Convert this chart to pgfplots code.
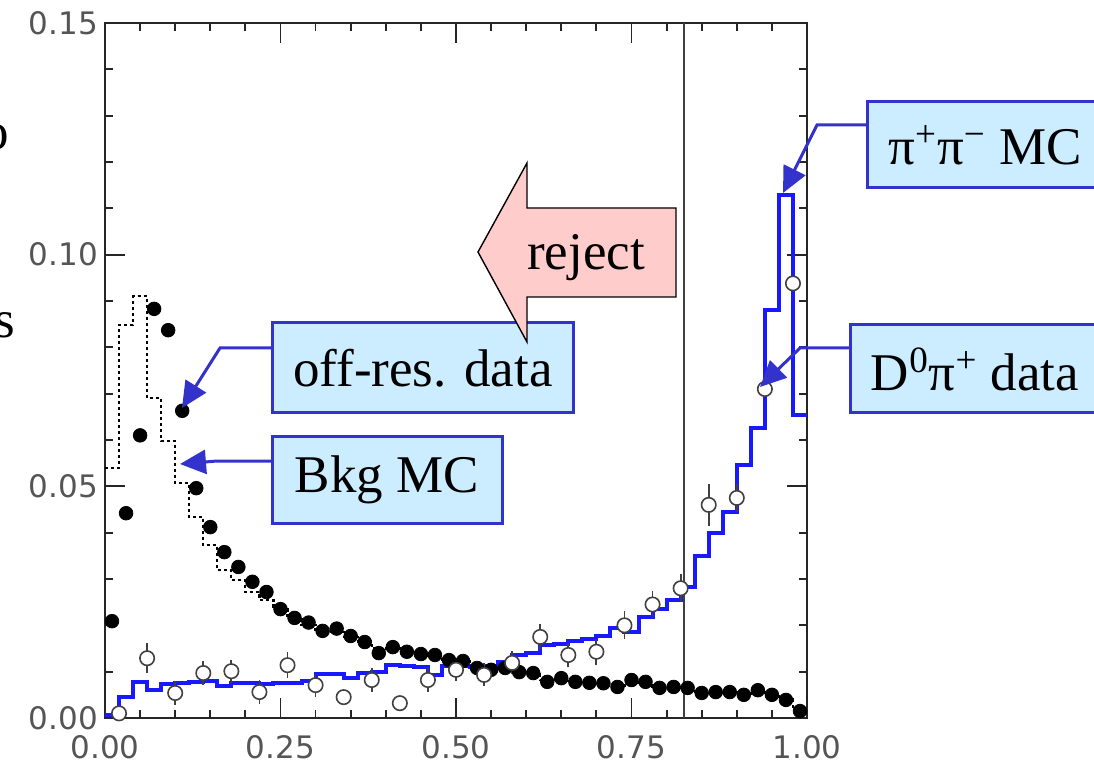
\documentclass[border=0pt]{standalone}
\usepackage{fontspec}
\setmainfont{Liberation Serif}
\newfontfamily\tickfont{DejaVu Sans}
\usepackage{pgfplots}
\pgfplotsset{compat=1.18}
\usetikzlibrary{arrows.meta}
\definecolor{boxfill}{RGB}{204,236,255}
\definecolor{boxblue}{RGB}{51,51,204}
\definecolor{histblue}{RGB}{25,25,255}
\definecolor{rejfill}{RGB}{255,204,204}
\definecolor{ticklab}{RGB}{85,85,85}
\begin{document}
\begin{tikzpicture}
\begin{axis}[
  at={(0,0)}, anchor=south west, scale only axis,
  width=351pt, height=347.5pt,
  xmin=0, xmax=1, ymin=0, ymax=0.15,
  xtick={0,0.25,0.5,0.75,1}, xticklabels={0.00,0.25,0.50,0.75,1.00},
  ytick={0,0.05,0.1,0.15}, yticklabels={0.00,0.05,0.10,0.15},
  minor x tick num=4, minor y tick num=4,
  tick align=inside, major tick length=10pt, minor tick length=4pt,
  tick style={black!85, line width=0.9pt},
  axis line style={black!85, line width=1.2pt},
  ticklabel style={font=\tickfont\fontsize{15.5}{18}\selectfont, text=ticklab},
  xticklabel style={yshift=-5pt},
]
% Bkg MC (dashed histogram)
\addplot[const plot, black, line width=1.1pt, dash pattern=on 1.6pt off 1.4pt] coordinates {
(0.00,0.0540)(0.02,0.0848)(0.04,0.0910)(0.06,0.0690)(0.08,0.0598)(0.10,0.0507)(0.12,0.0434)(0.14,0.0373)(0.16,0.0320)(0.18,0.0298)
(0.20,0.0272)(0.22,0.0255)(0.24,0.0235)(0.26,0.0220)(0.28,0.0200)(0.30,0.0190)(0.32,0.0185)(0.34,0.0175)(0.36,0.0165)(0.38,0.0150)
(0.40,0.0150)(0.42,0.0143)(0.44,0.0138)(0.46,0.0133)(0.48,0.0126)(0.50,0.0122)(0.52,0.0110)(0.54,0.0106)(0.56,0.0106)(0.58,0.0099)
(0.60,0.0095)(0.62,0.0082)(0.64,0.0084)(0.66,0.0079)(0.68,0.0076)(0.70,0.0074)(0.72,0.0070)(0.74,0.0078)(0.76,0.0076)(0.78,0.0067)
(0.80,0.0067)(0.82,0.0064)(0.84,0.0056)(0.86,0.0056)(0.88,0.0055)(0.90,0.0051)(0.92,0.0058)(0.94,0.0050)(0.96,0.0040)(0.98,0.0018)(1.00,0.0018)};
% off-res. data (filled)
\addplot[only marks, mark=*, mark size=3.4pt, black] coordinates {
(0.01,0.0209)(0.03,0.0442)(0.05,0.0610)(0.07,0.0883)(0.09,0.0837)(0.11,0.0663)(0.13,0.0496)(0.15,0.0412)(0.17,0.0358)(0.19,0.0326)
(0.21,0.0294)(0.23,0.0272)(0.25,0.0235)(0.27,0.0216)(0.29,0.0206)(0.31,0.0188)(0.33,0.0193)(0.35,0.0177)(0.37,0.0164)(0.39,0.0140)
(0.41,0.0153)(0.43,0.0143)(0.45,0.0138)(0.47,0.0136)(0.49,0.0125)(0.51,0.0123)(0.53,0.0108)(0.55,0.0104)(0.57,0.0108)(0.59,0.0099)
(0.61,0.0097)(0.63,0.0078)(0.65,0.0086)(0.67,0.0078)(0.69,0.0076)(0.71,0.0075)(0.73,0.0067)(0.75,0.0082)(0.77,0.0078)(0.79,0.0065)
(0.81,0.0067)(0.83,0.0065)(0.85,0.0054)(0.87,0.0056)(0.89,0.0056)(0.91,0.0050)(0.93,0.0060)(0.95,0.0050)(0.97,0.0039)(0.99,0.0015)};
% cut line
\addplot[black!75, line width=1.1pt] coordinates {(0.825,0) (0.825,0.15)};
% pi+pi- MC (blue histogram)
\addplot[const plot, histblue, line width=2pt] coordinates {
(0.00,0.0007)(0.02,0.0045)(0.04,0.0078)(0.06,0.0060)(0.08,0.0073)(0.10,0.0076)(0.12,0.0078)(0.14,0.0080)(0.16,0.0069)(0.18,0.0075)
(0.20,0.0076)(0.22,0.0074)(0.24,0.0076)(0.26,0.0076)(0.28,0.0080)(0.30,0.0096)(0.32,0.0095)(0.34,0.0087)(0.36,0.0097)(0.38,0.0100)
(0.40,0.0115)(0.42,0.0112)(0.44,0.0110)(0.46,0.0093)(0.48,0.0113)(0.50,0.0112)(0.52,0.0110)(0.54,0.0112)(0.56,0.0120)(0.58,0.0135)
(0.60,0.0140)(0.62,0.0157)(0.64,0.0160)(0.66,0.0166)(0.68,0.0170)(0.70,0.0176)(0.72,0.0194)(0.74,0.0185)(0.76,0.0218)(0.78,0.0235)
(0.80,0.0255)(0.82,0.0283)(0.84,0.0350)(0.86,0.0400)(0.88,0.0445)(0.90,0.0546)(0.92,0.0626)(0.94,0.0880)(0.96,0.1129)(0.98,0.0655)(1.00,0.0655)};
% D0pi+ data (open circles with errors)
\addplot[only marks, mark=*, mark size=3.6pt, black!75, mark options={fill=white, draw=black!75, line width=0.8pt},
  error bars/.cd, y dir=both, y explicit, error mark=none, error bar style={line width=0.9pt, black!75}] coordinates {
(0.02,0.0010) +- (0,0.0015)
(0.06,0.0129) +- (0,0.0032)
(0.10,0.0054) +- (0,0.0025)
(0.14,0.0097) +- (0,0.0025)
(0.18,0.0101) +- (0,0.0025)
(0.22,0.0056) +- (0,0.0025)
(0.26,0.0114) +- (0,0.0028)
(0.30,0.0071) +- (0,0.0025)
(0.34,0.0045) +- (0,0.0010)
(0.38,0.0082) +- (0,0.0025)
(0.42,0.0032) +- (0,0.0010)
(0.46,0.0082) +- (0,0.0025)
(0.50,0.0104) +- (0,0.0025)
(0.54,0.0093) +- (0,0.0025)
(0.58,0.0119) +- (0,0.0025)
(0.62,0.0175) +- (0,0.0028)
(0.66,0.0136) +- (0,0.0025)
(0.70,0.0143) +- (0,0.0028)
(0.74,0.0200) +- (0,0.0030)
(0.78,0.0245) +- (0,0.0030)
(0.82,0.0280) +- (0,0.0030)
(0.86,0.0460) +- (0,0.0045)
(0.90,0.0475) +- (0,0.0030)
(0.94,0.0710) +- (0,0.0015)
(0.98,0.0938) +- (0,0.0015)};
\end{axis}
\begin{scope}[x=0.5pt, y=-0.5pt, shift={(-52.5pt,359pt)}]
  \tikzset{lab/.style={font=\fontsize{26.5}{30}\selectfont, inner sep=0pt},
           lead/.style={boxblue, line width=1.5pt, -{Triangle[length=13pt,width=12pt]}},
           bx/.style={draw=boxblue, fill=boxfill, line width=1.5pt}}
  % left cut-off label fragments (cut off in the reference too)
  \node[lab, anchor=base east] at (9,150) {o};
  \node[lab, anchor=base east] at (16,338) {s};
  % pi+pi- MC
  \draw[bx] (867,102) rectangle (1115,188);
  \node[lab] at (985,145) {π\textsuperscript{+}π\textsuperscript{−} MC};
  \draw[lead] (867,125) -- (817,125) -- (783,193);
  % D0pi+ data
  \draw[bx] (850,325) rectangle (1115,413);
  \node[lab] at (975,369) {D\textsuperscript{0}π\textsuperscript{+} data};
  \draw[lead] (850,348) -- (800,348) -- (760,387);
  % off-res. data
  \draw[bx] (272,323) rectangle (573,413);
  \node[lab] at (423,368) {off-res. data};
  \draw[lead] (272,348) -- (220,348) -- (182,408);
  % Bkg MC
  \draw[bx] (272,437) rectangle (502,523);
  \node[lab] at (387,480) {Bkg MC};
  \draw[lead] (272,461) -- (217,461) -- (180,464);
  % reject arrow
  \draw[black, line width=0.7pt, fill=rejfill] (478,252) -- (527,163) -- (527,208) -- (676,208) -- (676,297) -- (527,297) -- (527,342) -- cycle;
  \node[lab, anchor=base] at (586,270) {reject};
  \pgfresetboundingbox
  \useasboundingbox (0,0) rectangle (1094,767);
\end{scope}
\end{tikzpicture}
\end{document}
